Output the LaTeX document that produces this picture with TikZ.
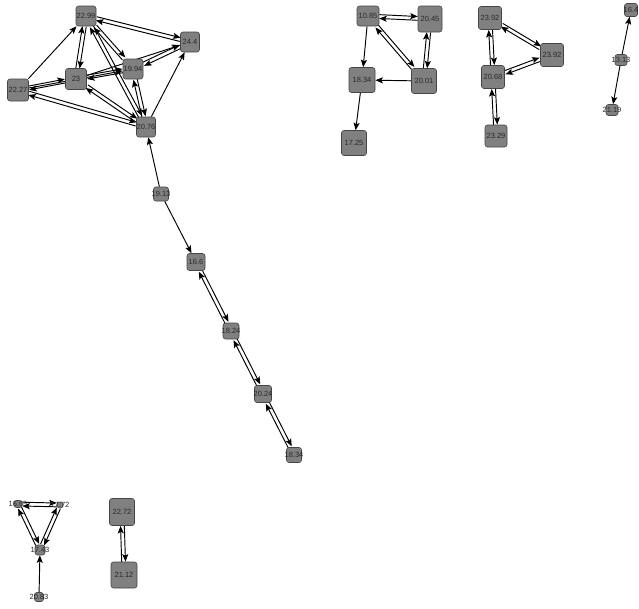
\documentclass[tikz,border=0pt]{standalone}
\usepackage{fontspec}
\setmainfont{Liberation Sans}
\usetikzlibrary{calc,arrows.meta}
\pgfdeclarelayer{back}
\pgfdeclarelayer{bg}
\pgfsetlayers{back,bg,main}
\definecolor{boxfill}{HTML}{808080}
\definecolor{boxline}{HTML}{454545}
\definecolor{labeltext}{HTML}{2A2A2A}
\tikzset{
  box/.style={draw=boxline, fill=boxfill, rounded corners=2.5pt, inner sep=0pt, line width=0.6pt},
  lbl/.style={font=\fontsize{7.5}{8}\selectfont, text=labeltext, inner sep=0pt},
  edge/.style={draw=black, line width=0.95pt, -{Stealth[length=7.5pt,width=6pt,inset=1.5pt]}}
}
\newcommand\mknode[6]{\node[box,minimum width=#4pt,minimum height=#5pt,label={[lbl]center:#6}] (#1) at (#2,#3) {};}
\newcommand\oneway[2]{\draw[edge] (#1) -- (#2);}
\newcommand\twoway[2]{%
  \draw[edge,transform canvas={shift={($(#1)!1.9pt!90:(#2)-(#1)$)}}] (#1) -- (#2);
  \draw[edge,transform canvas={shift={($(#2)!1.9pt!90:(#1)-(#2)$)}}] (#2) -- (#1);}
\begin{document}
\begin{tikzpicture}[x=1pt,y=-1pt]
\begin{pgfonlayer}{back}
\fill[white] (0,0) rectangle (639,608);
\end{pgfonlayer}
\useasboundingbox (0,0) rectangle (639,608);
% main cluster
\mknode{n2299}{86}{16}{20}{20}{22.99}
\mknode{n244}{190}{42}{19}{20}{24.4}
\mknode{n1994}{133}{69}{20}{20}{19.94}
\mknode{n23}{76}{79}{21}{21}{23}
\mknode{n2227}{18}{90}{21}{22}{22.27}
\mknode{n2076}{146}{127}{19}{20}{20.76}
\mknode{n1913}{161}{194}{15}{14}{19.13}
\mknode{n166}{196}{262}{18}{17}{16.6}
\mknode{n1824}{231}{331}{16}{16}{18.24}
\mknode{n2024}{263}{394}{17}{17}{20.24}
\mknode{n1834b}{294}{455}{15}{15}{18.34}
% group 2
\mknode{g1085}{368}{16}{22}{20}{10.85}
\mknode{g2045}{430}{19}{24}{26}{20.45}
\mknode{g1834}{362}{80}{26}{25}{18.34}
\mknode{g2001}{424}{81}{25}{25}{20.01}
\mknode{g1725}{354}{143}{25}{25}{17.25}
% group 3
\mknode{h2392a}{490}{18}{23}{23}{23.92}
\mknode{h2392b}{552}{55}{23}{23}{23.92}
\mknode{h2068}{493}{77}{23}{23}{20.68}
\mknode{h2329}{496}{136}{22}{22}{23.29}
% group 4
\mknode{k164}{631}{10}{13}{13}{16.4}
\mknode{k1313}{621}{60}{12}{11}{13.13}
\mknode{k2119}{612}{110}{12}{11}{21.19}
% group 5
\mknode{pL}{18}{504}{8}{7}{16.65}
\mknode{pR}{60}{505}{6}{6}{17.72}
\mknode{p1743}{40}{550}{10}{10}{17.43}
\mknode{p2083}{39}{597}{9}{9}{20.83}
% group 6
\mknode{q2272}{122}{512}{25}{27}{22.72}
\mknode{q2112}{124}{575}{26}{26}{21.12}
\begin{pgfonlayer}{bg}
% main cluster edges
\oneway{n2227}{n2299}
\twoway{n2299}{n23}
\twoway{n2299}{n244}
\twoway{n2299}{n1994}
\twoway{n2299}{n2076}
\twoway{n2227}{n23}
\twoway{n23}{n1994}
\oneway{n2227}{n1994}
\twoway{n1994}{n244}
\oneway{n23}{n244}
\twoway{n23}{n2076}
\twoway{n2227}{n2076}
\twoway{n2076}{n1994}
\oneway{n2076}{n244}
\oneway{n1913}{n2076}
\oneway{n1913}{n166}
\twoway{n166}{n1824}
\twoway{n1824}{n2024}
\twoway{n2024}{n1834b}
% group 2 edges
\twoway{g1085}{g2045}
\oneway{g1085}{g1834}
\twoway{g1085}{g2001}
\twoway{g2045}{g2001}
\oneway{g2001}{g1834}
\oneway{g1834}{g1725}
% group 3 edges
\twoway{h2392a}{h2392b}
\twoway{h2392a}{h2068}
\twoway{h2068}{h2392b}
\twoway{h2068}{h2329}
% group 4 edges
\oneway{k1313}{k164}
\oneway{k1313}{k2119}
% group 5 edges
\twoway{pL}{pR}
\twoway{pL}{p1743}
\twoway{pR}{p1743}
\oneway{p2083}{p1743}
% group 6 edges
\twoway{q2272}{q2112}
\end{pgfonlayer}
\end{tikzpicture}
\end{document}
